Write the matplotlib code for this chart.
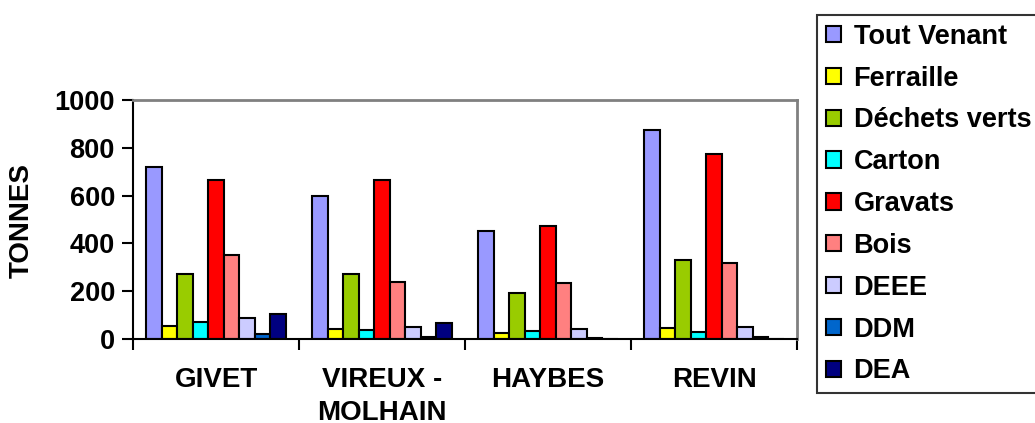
import numpy as np
import matplotlib
matplotlib.use('Agg')
import matplotlib.pyplot as plt

plt.rcParams['font.family'] = ['Liberation Sans', 'DejaVu Sans']
plt.rcParams['font.weight'] = 'bold'

sites = ['GIVET', 'VIREUX -\nMOLHAIN', 'HAYBES', 'REVIN']
waste_types = ['Tout Venant', 'Ferraille', 'Déchets verts', 'Carton', 'Gravats',
               'Bois', 'DEEE', 'DDM', 'DEA']

tout_venant   = [720, 600, 452, 874]
ferraille     = [55, 40, 25, 47]
dechets_verts = [272, 270, 192, 331]
carton        = [72, 36, 32, 28]
gravats       = [664, 665, 471, 773]
bois          = [350, 237, 233, 318]
deee          = [86, 49, 40, 50]
ddm           = [20, 10, 5, 10]
dea           = [106, 68, 0, 0]

series = [tout_venant, ferraille, dechets_verts, carton, gravats,
          bois, deee, ddm, dea]
colors = ['#9999FF', '#FFFF00', '#99CC00', '#00FFFF', '#FF0000',
          '#FF8080', '#CCCCFF', '#0066CC', '#000080']

W, H = 1035, 423
fig = plt.figure(figsize=(W / 100, H / 100), dpi=100)
ax = fig.add_axes([133 / W, 1 - 339 / H, (797 - 133) / W, (339 - 100) / H])

x = np.arange(len(sites))
bw = 0.0934
n = len(series)
for i, (vals, col, lab) in enumerate(zip(series, colors, waste_types)):
    off = (i - (n - 1) / 2) * bw
    ax.bar(x + off, vals, width=bw, color=col, edgecolor='black',
           linewidth=1.5, label=lab, zorder=2)

ax.set_xlim(-0.5, len(sites) - 0.5)
ax.set_ylim(0, 1000)
ax.set_yticks(np.arange(0, 1001, 200))
ax.tick_params(axis='y', direction='out', length=8, width=1.5,
               labelsize=19.5, pad=5)

# category boundaries carry the tick marks, labels sit centred between them
ax.set_xticks(np.arange(-0.5, len(sites), 1.0))
ax.set_xticklabels([])
ax.tick_params(axis='x', which='major', direction='out', length=8, width=1.5)
ax.set_xticks(x, minor=True)
ax.set_xticklabels(sites, minor=True, fontsize=20, linespacing=1.35)
ax.tick_params(axis='x', which='minor', length=0, pad=20)

for lab in ax.get_yticklabels():
    lab.set_fontweight('bold')
for lab in ax.get_xticklabels(minor=True):
    lab.set_fontweight('bold')

ax.spines['left'].set_linewidth(1.5)
ax.spines['bottom'].set_linewidth(1.5)
for s in ('top', 'right'):
    ax.spines[s].set_color('#808080')
    ax.spines[s].set_linewidth(2)

fig.text(22 / W, 1 - 220 / H, 'TONNES', rotation=90, ha='center', va='center',
         fontsize=20, fontweight='bold')

leg = fig.legend(loc='upper left', bbox_to_anchor=(817 / W, 1 - 15 / H),
                 fontsize=19.5, frameon=True, fancybox=False, shadow=False,
                 labelspacing=0.585, handlelength=0.55, handleheight=0.55,
                 handletextpad=0.48, borderpad=0.32, borderaxespad=0)
leg.get_frame().set_edgecolor('black')
leg.get_frame().set_linewidth(1.5)
for t in leg.get_texts():
    t.set_fontweight('bold')

fig.savefig('out.png', dpi=100)
